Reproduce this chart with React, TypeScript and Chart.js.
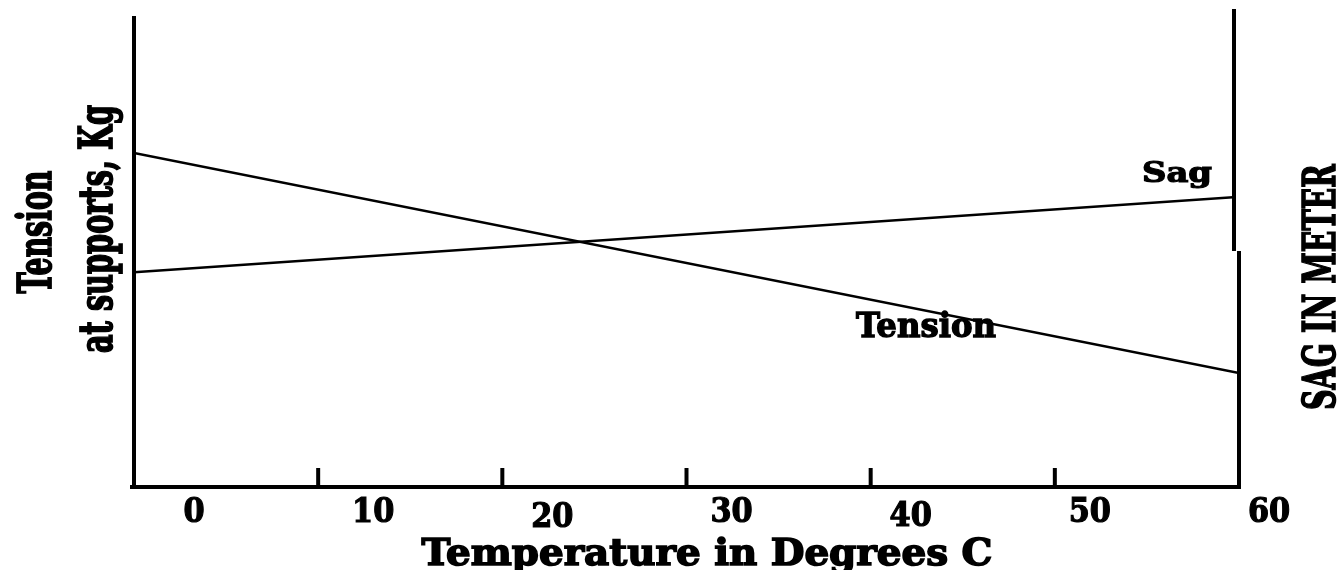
import React, { useEffect, useRef } from "react";
import { Chart, registerables } from "chart.js";

Chart.register(...registerables);

// ---- data ----
const temperatures = [0, 60];
const tensionValues = [70.9, 24.2]; // left axis (relative units, no ticks shown)
const sagValues = [4.56, 6.16]; // right axis (relative units, no ticks shown)
const xTickMarks = [10, 20, 30, 40, 50];
const xTickValues = [0, 10, 20, 30, 40, 50, 60];
const xTickLabels = ["0", "10", "20", "30", "40", "50", "60"];

const xTitle = "Temperature in Degrees C";
const yTitleLine1 = "Tension";
const yTitleLine2 = "at supports, Kg";
const y1Title = "SAG IN METER";
const sagLabel = "Sag";
const tensionLabel = "Tension";

// ---- layout / style ----
const FONT = '"DejaVu Serif", "Liberation Serif", serif';
const labelDy = [0, 0, 5, 0, 4, 0, 0];

function fitText(
  ctx: CanvasRenderingContext2D,
  text: string,
  x: number,
  y: number,
  width: number,
  size: number,
  rotate: boolean,
  stroke = 1.4
) {
  ctx.save();
  ctx.font = `bold ${size}px ${FONT}`;
  const w = ctx.measureText(text).width;
  ctx.translate(x, y);
  if (rotate) ctx.rotate(-Math.PI / 2);
  ctx.scale(width / w, 1);
  ctx.textAlign = "center";
  ctx.textBaseline = "alphabetic";
  ctx.fillStyle = "#000";
  ctx.strokeStyle = "#000";
  ctx.lineWidth = stroke;
  ctx.lineJoin = "miter";
  ctx.fillText(text, 0, 0);
  if (stroke > 0) ctx.strokeText(text, 0, 0);
  ctx.restore();
}

const decorPlugin = {
  id: "decor",
  afterDraw(chart: any) {
    const ctx: CanvasRenderingContext2D = chart.ctx;
    const ca = chart.chartArea;
    const xs = chart.scales.x;
    ctx.save();
    ctx.fillStyle = "#000";
    // axes
    ctx.fillRect(ca.left - 2, ca.top, 4, ca.bottom - ca.top);
    ctx.fillRect(ca.left - 4, ca.bottom - 2, ca.right - ca.left + 6, 4);
    ctx.fillRect(ca.right - 7, ca.top - 7, 4, 251 - (ca.top - 7));
    ctx.fillRect(ca.right - 2, 251, 4, ca.bottom + 2 - 251);
    // tick marks (pointing inward)
    for (const v of xTickMarks) {
      const px = xs.getPixelForValue(v);
      ctx.fillRect(px - 2, ca.bottom - 19, 4, 19);
    }
    ctx.restore();
    // tick labels
    xTickValues.forEach((v, i) => {
      const px = xs.getPixelForValue(v) + 60 - 0.5 * v;
      const size = 33;
      ctx.save();
      ctx.font = `bold ${size}px ${FONT}`;
      const w = ctx.measureText(xTickLabels[i]).width * 0.92;
      ctx.restore();
      fitText(ctx, xTickLabels[i], px, ca.bottom + 35 + labelDy[i], w, size, false, 1.2);
    });

    // titles
    fitText(ctx, xTitle, 707, 565, 571, 37, false, 1.6);
    fitText(ctx, yTitleLine1, 51, 232, 123, 46, true, 1.8);
    fitText(ctx, yTitleLine2, 112, 229, 248, 46, true, 1.8);
    fitText(ctx, y1Title, 1335, 287, 246, 44, true, 1.6);
    // in-plot line labels
    fitText(ctx, sagLabel, 1177, 182, 70, 28, false, 1.2);
    fitText(ctx, tensionLabel, 926, 337, 140, 34, false, 1.4);
  },
};

export default function App() {
  const ref = useRef<HTMLCanvasElement | null>(null);

  useEffect(() => {
    if (!ref.current) return;
    const chart = new Chart(ref.current, {
      type: "line",
      data: {
        datasets: [
          {
            label: "Tension",
            data: temperatures.map((t, i) => ({ x: t, y: tensionValues[i] })),
            borderColor: "#000",
            borderWidth: 2.5,
            pointRadius: 0,
            tension: 0,
            yAxisID: "y",
          },
          {
            label: "Sag",
            data: temperatures.map((t, i) => ({ x: t, y: sagValues[i] })),
            borderColor: "#000",
            borderWidth: 2.5,
            pointRadius: 0,
            tension: 0,
            yAxisID: "y1",
            clip: { left: 2, top: 2, right: -6, bottom: 2 },
          },
        ],
      },
      options: {
        animation: false,
        responsive: false,
        devicePixelRatio: 1,
        layout: { padding: { left: 134, right: 100, top: 16, bottom: 83 } },
        plugins: { legend: { display: false }, tooltip: { enabled: false }, title: { display: false } },
        scales: {
          x: { type: "linear", min: 0, max: 60, display: false },
          y: { type: "linear", min: 0, max: 100, display: false, position: "left" },
          y1: { type: "linear", min: 0, max: 10, display: false, position: "right" },
        },
      },
      plugins: [decorPlugin],
    });
    return () => chart.destroy();
  }, []);

  return (
    <div style={{ position: "absolute", left: 0, top: 0, width: 1339, height: 570, background: "#fff" }}>
      <canvas ref={ref} width={1339} height={570} style={{ display: "block" }} />
    </div>
  );
}
